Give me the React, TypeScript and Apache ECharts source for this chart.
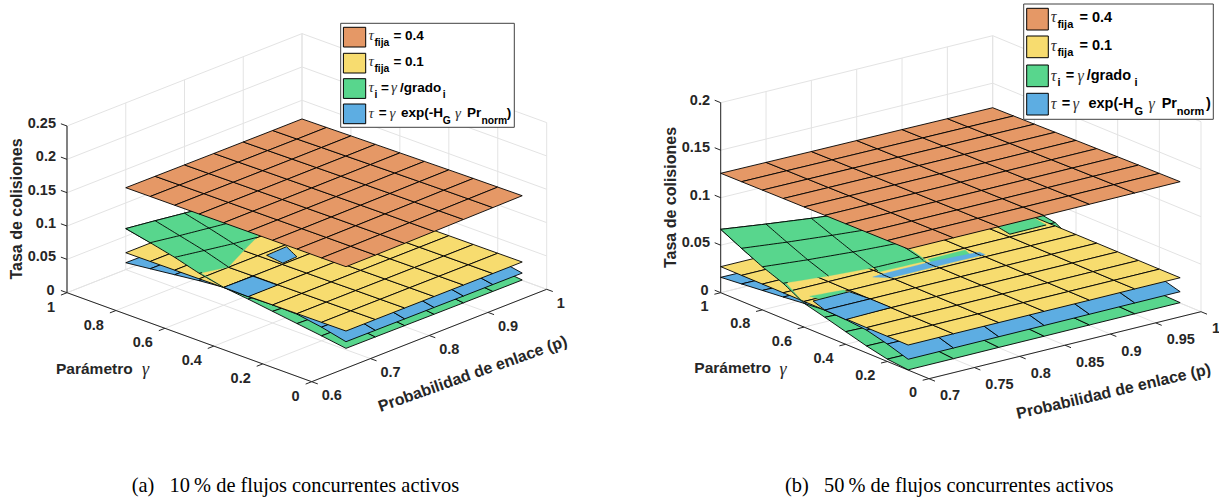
import React, { useEffect, useRef } from "react";
import * as echarts from "echarts";

// ---------- data ----------
const gammaNodes = [1, 0.9, 0.8, 0.7, 0.6, 0.5, 0.4, 0.3, 0.2, 0.1];
const probNodes = [0.7, 0.75, 0.8, 0.85, 0.9, 0.95, 1];

const orangeA = [
  [0.1228, 0.1226, 0.1224, 0.1222, 0.1221, 0.122, 0.122],
  [0.123, 0.1229, 0.1227, 0.1226, 0.1226, 0.1225, 0.1226],
  [0.1232, 0.1232, 0.1231, 0.1231, 0.1231, 0.1232, 0.1233],
  [0.1234, 0.1234, 0.1234, 0.1235, 0.1236, 0.1237, 0.1239],
  [0.1236, 0.1237, 0.1238, 0.1239, 0.1241, 0.1243, 0.1245],
  [0.1238, 0.1239, 0.1241, 0.1243, 0.1246, 0.1249, 0.1251],
  [0.124, 0.1241, 0.1244, 0.1247, 0.125, 0.1254, 0.1257],
  [0.1242, 0.1243, 0.1246, 0.125, 0.1254, 0.1259, 0.1262],
  [0.1243, 0.1244, 0.1248, 0.1252, 0.1257, 0.1262, 0.1266],
  [0.1245, 0.1246, 0.1249, 0.1254, 0.126, 0.1265, 0.127],
];
const yellowA = [
  [0.0253, 0.0253, 0.0254, 0.0254, 0.0255, 0.0255, 0.0255],
  [0.0256, 0.0256, 0.0257, 0.0257, 0.0257, 0.0258, 0.0258],
  [0.0259, 0.0259, 0.026, 0.026, 0.026, 0.026, 0.026],
  [0.0262, 0.0262, 0.0262, 0.0263, 0.0263, 0.0263, 0.0263],
  [0.0265, 0.0265, 0.0265, 0.0265, 0.0265, 0.0265, 0.0265],
  [0.0268, 0.0268, 0.0268, 0.0268, 0.0268, 0.0268, 0.0268],
  [0.0271, 0.0271, 0.027, 0.027, 0.027, 0.027, 0.027],
  [0.0274, 0.0274, 0.0274, 0.0273, 0.0273, 0.0272, 0.0272],
  [0.0277, 0.0277, 0.0276, 0.0276, 0.0275, 0.0274, 0.0274],
  [0.028, 0.028, 0.0279, 0.0278, 0.0277, 0.0276, 0.0276],
];
const greenA = [
  [0.0615, 0.056, 0.05, 0.044, 0.039, 0.035, 0.032],
  [0.0537, 0.047, 0.041, 0.035, 0.03, 0.027, 0.025],
  [0.0451, 0.038, 0.031, 0.0255, 0.023, 0.0215, 0.021],
  [0.0345, 0.0265, 0.022, 0.02, 0.019, 0.0185, 0.018],
  [0.0268, 0.0225, 0.02, 0.0185, 0.0175, 0.0165, 0.016],
  [0.0225, 0.019, 0.017, 0.0155, 0.0145, 0.014, 0.0135],
  [0.0175, 0.015, 0.0135, 0.0125, 0.0115, 0.011, 0.0105],
  [0.0125, 0.011, 0.0095, 0.009, 0.0085, 0.008, 0.0075],
  [0.0075, 0.0065, 0.006, 0.0055, 0.005, 0.0045, 0.0045],
  [0.002, 0.0018, 0.0015, 0.0012, 0.001, 0.0008, 0.0006],
];
const blueA = [
  [0.0103, 0.01, 0.0098, 0.0096, 0.0094, 0.0092, 0.009],
  [0.0146, 0.0142, 0.0138, 0.0135, 0.0132, 0.013, 0.0128],
  [0.019, 0.0185, 0.018, 0.0176, 0.0172, 0.0168, 0.0165],
  [0.0234, 0.0228, 0.0255, 0.026, 0.021, 0.0205, 0.02],
  [0.0268, 0.0262, 0.026, 0.026, 0.025, 0.0245, 0.024],
  [0.0262, 0.0262, 0.0255, 0.025, 0.0245, 0.024, 0.0235],
  [0.0272, 0.0265, 0.0255, 0.025, 0.0245, 0.024, 0.0235],
  [0.0265, 0.0255, 0.0245, 0.024, 0.023, 0.0225, 0.022],
  [0.0205, 0.02, 0.0195, 0.019, 0.0185, 0.018, 0.0178],
  [0.012, 0.0118, 0.0116, 0.0114, 0.0112, 0.0111, 0.011],
];

const orangeB = [
  [0.1257, 0.1254, 0.1251, 0.1249, 0.1247, 0.1244, 0.1242],
  [0.1259, 0.1257, 0.1254, 0.1252, 0.125, 0.1248, 0.1246],
  [0.1261, 0.1259, 0.1257, 0.1255, 0.1253, 0.1252, 0.125],
  [0.1263, 0.1261, 0.126, 0.1258, 0.1257, 0.1256, 0.1255],
  [0.1265, 0.1264, 0.1262, 0.1261, 0.126, 0.126, 0.126],
  [0.1267, 0.1266, 0.1265, 0.1264, 0.1264, 0.1264, 0.1264],
  [0.1269, 0.1268, 0.1267, 0.1267, 0.1267, 0.1268, 0.1268],
  [0.1271, 0.127, 0.127, 0.127, 0.127, 0.1271, 0.1272],
  [0.1273, 0.1273, 0.1272, 0.1272, 0.1273, 0.1274, 0.1275],
  [0.1275, 0.1275, 0.1275, 0.1275, 0.1276, 0.1277, 0.1278],
];
const yellowB = [
  [0.0274, 0.0274, 0.0273, 0.0272, 0.0272, 0.0271, 0.027],
  [0.0273, 0.0273, 0.0272, 0.0272, 0.0271, 0.0271, 0.027],
  [0.0272, 0.0272, 0.0272, 0.0271, 0.0271, 0.027, 0.027],
  [0.0271, 0.0271, 0.0271, 0.0271, 0.027, 0.027, 0.0269],
  [0.027, 0.027, 0.027, 0.027, 0.027, 0.0269, 0.0269],
  [0.0269, 0.0269, 0.0269, 0.0269, 0.0269, 0.0269, 0.0269],
  [0.0268, 0.0268, 0.0268, 0.0268, 0.0268, 0.0268, 0.0268],
  [0.0266, 0.0267, 0.0267, 0.0268, 0.0268, 0.0268, 0.0268],
  [0.0265, 0.0266, 0.0266, 0.0267, 0.0267, 0.0267, 0.0267],
  [0.0264, 0.0265, 0.0265, 0.0266, 0.0266, 0.0267, 0.0267],
];
const greenB = [
  [0.0667, 0.0605, 0.0548, 0.05, 0.0465, 0.044, 0.042],
  [0.0558, 0.0505, 0.046, 0.042, 0.0395, 0.0375, 0.036],
  [0.0454, 0.041, 0.0375, 0.035, 0.034, 0.034, 0.034],
  [0.0371, 0.033, 0.03, 0.0295, 0.03, 0.03, 0.0304],
  [0.0251, 0.0225, 0.021, 0.02, 0.0195, 0.019, 0.0185],
  [0.0194, 0.0175, 0.016, 0.015, 0.0145, 0.014, 0.0135],
  [0.0133, 0.012, 0.0105, 0.01, 0.0095, 0.009, 0.0085],
  [0.0073, 0.0068, 0.006, 0.0055, 0.005, 0.0045, 0.004],
  [0.0025, 0.0022, 0.002, 0.0018, 0.0016, 0.0014, 0.0012],
  [0.0003, 0.0003, 0.0004, 0.0004, 0.0005, 0.0005, 0.0005],
];
const blueB = [
  [0.0162, 0.0158, 0.0152, 0.0148, 0.0144, 0.014, 0.0136],
  [0.0183, 0.0178, 0.0172, 0.0168, 0.0164, 0.016, 0.0156],
  [0.0205, 0.02, 0.0196, 0.0192, 0.0188, 0.0184, 0.018],
  [0.0226, 0.0225, 0.0265, 0.0265, 0.0265, 0.0215, 0.021],
  [0.025, 0.0255, 0.0265, 0.0265, 0.0265, 0.0235, 0.023],
  [0.027, 0.027, 0.0255, 0.025, 0.0245, 0.024, 0.0235],
  [0.026, 0.027, 0.0255, 0.025, 0.0245, 0.024, 0.0235],
  [0.024, 0.0238, 0.0235, 0.0232, 0.023, 0.0228, 0.0225],
  [0.0184, 0.0184, 0.0183, 0.0183, 0.0182, 0.0182, 0.0182],
  [0.0114, 0.0115, 0.0116, 0.0117, 0.0118, 0.0119, 0.012],
];

// parts of a lower surface that the reference paints over the yellow one, as [p, gamma] outlines
const greenOverA = [[[0.7, 1], [0.7, 0.6], [0.703, 0.7], [0.75, 0.7], [0.84, 0.8], [0.92, 0.9], [1, 0.97], [1, 1]]];
const blueOverA = [
  [[0.7, 0.6], [0.75, 0.6], [0.75, 0.5], [0.7, 0.5]],
  [[0.809, 0.686], [0.844, 0.689], [0.83, 0.613], [0.804, 0.608]],
];
const blueSliverA: number[][][] = [];
const greenOverB = [
  [[0.7, 1], [0.7, 0.6], [0.703, 0.7], [0.8, 0.7], [0.8, 0.675], [0.852, 0.675], [0.852, 0.8], [0.852, 1]],
  [[0.95, 0.699], [0.99, 0.699], [0.99, 0.8], [0.95, 0.8]],
  [[0.855, 0.68], [0.896, 0.68], [0.896, 0.645], [0.855, 0.65]],
  [[0.712, 0.625], [0.75, 0.625], [0.75, 0.6], [0.72, 0.6]],
];
const blueOverB = [
  [[0.71, 0.6], [0.75, 0.6], [0.75, 0.5], [0.7, 0.5]],
  [[0.7, 0.5], [0.75, 0.5], [0.75, 0.4], [0.7, 0.4]],
];
const blueSliverB = [[[0.79, 0.662], [0.855, 0.665], [0.905, 0.65], [0.905, 0.622], [0.8, 0.62]]];

const gammaTicks = [1, 0.8, 0.6, 0.4, 0.2, 0];
const gammaLabels = ["1", "0.8", "0.6", "0.4", "0.2", "0"];
const probTicksA = [0.6, 0.7, 0.8, 0.9, 1];
const probLabelsA = ["0.6", "0.7", "0.8", "0.9", "1"];
const probTicksB = [0.7, 0.75, 0.8, 0.85, 0.9, 0.95, 1];
const probLabelsB = ["0.7", "0.75", "0.8", "0.85", "0.9", "0.95", "1"];
const rateTicksA = [0, 0.05, 0.1, 0.15, 0.2, 0.25];
const rateLabelsA = ["0", "0.05", "0.1", "0.15", "0.2", "0.25"];
const rateTicksB = [0, 0.05, 0.1, 0.15, 0.2];
const rateLabelsB = ["0", "0.05", "0.1", "0.15", "0.2"];

const titleRate = "Tasa de colisiones";
const titleProb = "Probabilidad de enlace (p)";
const titleGamma = "Parámetro";
const captionA = "(a)\u2002 10\u2009% de flujos concurrentes activos";
const captionB = "(b)\u2002 50\u2009% de flujos concurrentes activos";

const ORANGE = "#E59866";
const YELLOW = "#F7DC6F";
const GREEN = "#58D68D";
const BLUE = "#5DADE2";
const swatchColors = [ORANGE, YELLOW, GREEN, BLUE];

// legend pieces: text, x inside the box, row, kind (m main, s subscript, g greek)
const legendPartsA: any[] = [
  ["τ", 27.7, 0, "g"], ["fija", 33.7, 0, "s"], ["= 0.4", 52.7, 0, "m"],
  ["τ", 27.7, 1, "g"], ["fija", 33.7, 1, "s"], ["= 0.1", 52.7, 1, "m"],
  ["τ", 27.7, 2, "g"], ["i", 33.7, 2, "s"], ["=", 40.3, 2, "m"], ["γ", 50.3, 2, "g"], ["/grado", 59.3, 2, "m"], ["i", 102, 2, "s"],
  ["τ", 27.7, 3, "g"], ["=", 38, 3, "m"], ["γ", 48.7, 3, "g"], ["exp(-H", 60.3, 3, "m"], ["G", 102, 3, "s"],
  ["γ", 114.3, 3, "g"], ["Pr", 126.3, 3, "m"], ["norm", 140.7, 3, "s"], [")", 166, 3, "m"],
];
const legendPartsB: any[] = [
  ["τ", 27, 0, "g"], ["fija", 33.7, 0, "s"], ["= 0.4", 55.7, 0, "m"],
  ["τ", 27, 1, "g"], ["fija", 33.7, 1, "s"], ["= 0.1", 55.7, 1, "m"],
  ["τ", 27, 2, "g"], ["i", 33.7, 2, "s"], ["=", 42, 2, "m"], ["γ", 53.7, 2, "g"], ["/grado", 63, 2, "m"], ["i", 110.7, 2, "s"],
  ["τ", 27, 3, "g"], ["=", 38, 3, "m"], ["γ", 49, 3, "g"], ["exp(-H", 64.7, 3, "m"], ["G", 110.7, 3, "s"],
  ["γ", 124.7, 3, "g"], ["Pr", 138, 3, "m"], ["norm", 153, 3, "s"], [")", 182.3, 3, "m"],
];

// ---------- view of each panel ----------
const panelA = {
  origin: [311.7, 381.7], pVec: [235, -92.4], gVec: [-244.7, -89], zScale: 666.8,
  pMin: 0.6, pMax: 1, zMax: 0.25,
  pTicks: probTicksA, pLabels: probLabelsA, zTicks: rateTicksA, zLabels: rateLabelsA,
  orange: orangeA, yellow: yellowA, green: greenA, blue: blueA,
  greenOver: greenOverA, blueOver: blueOverA, blueSliver: blueSliverA,
  zAxisColor: "#666666", zAxisWidth: 1.6,
  pLabelOffset: [10, 13.5], gLabelOffset: [-12, 14], zLabelRight: 56, zLabelDy: -3,
  rateTitle: [16.7, 209], probTitle: [472.5, 373.5], probAngle: 19.5,
  gammaTitleX: 56, gammaGreekX: 145.5, gammaY: 368,
  caption: captionA, captionX: 131.7,
  legend: { box: [340.7, 23.3, 173.6, 104], parts: legendPartsA, rows: [11.7, 37.7, 64, 89.4], subDy: 7.4,
    swY: [4, 30, 55.4, 80.7], swX: 2.7, swW: 22.3, swH: 19.7, main: 13.5, sub: 10.3 },
};
const panelB = {
  origin: [929, 378.7], pVec: [272, -67], gVec: [-208.3, -86], zScale: 950,
  pMin: 0.7, pMax: 1, zMax: 0.2,
  pTicks: probTicksB, pLabels: probLabelsB, zTicks: rateTicksB, zLabels: rateLabelsB,
  orange: orangeB, yellow: yellowB, green: greenB, blue: blueB,
  greenOver: greenOverB, blueOver: blueOverB, blueSliver: blueSliverB,
  zAxisColor: "#262626", zAxisWidth: 1,
  pLabelOffset: [11, 16.5], gLabelOffset: [-12, 13.5], zLabelRight: 710, zLabelDy: -3.2,
  rateTitle: [670, 197.5], probTitle: [1113.5, 391], probAngle: 13.1,
  gammaTitleX: 694.3, gammaGreekX: 783, gammaY: 367.7,
  caption: captionB, captionX: 785,
  legend: { box: [1023.7, 4, 189.6, 115.3], parts: legendPartsB, rows: [12.7, 41, 71, 99.3], subDy: 7.4,
    swY: [4.3, 32, 61, 89.3], swX: 3, swW: 21.6, swH: 21.7, main: 14.5, sub: 11 },
};

const TEXT = "#262626";
const GRID = "#E3E3E3";
const SANS = "'Liberation Sans', Arial, sans-serif";
const SERIF = "'Liberation Serif', 'Times New Roman', serif";

function project(pn: any, p: number, g: number, z: number) {
  const a = (p - pn.pMin) / (pn.pMax - pn.pMin);
  return [
    pn.origin[0] + a * pn.pVec[0] + g * pn.gVec[0],
    pn.origin[1] + a * pn.pVec[1] + g * pn.gVec[1] - z * pn.zScale,
  ];
}
function unit(v: number[], len: number) {
  const n = Math.hypot(v[0], v[1]);
  return [(v[0] / n) * len, (v[1] / n) * len];
}
function zAt(t: number[][], p: number, g: number) {
  const fc = Math.min(5.9999, Math.max(0, (p - 0.7) / 0.05));
  const fr = Math.min(8.9999, Math.max(0, (1 - g) / 0.1));
  const c = Math.floor(fc), r = Math.floor(fr);
  const u = fc - c, v = fr - r;
  return (t[r][c] * (1 - u) + t[r][c + 1] * u) * (1 - v) + (t[r + 1][c] * (1 - u) + t[r + 1][c + 1] * u) * v;
}
function inside(poly: number[][], p: number, g: number) {
  let hit = false;
  for (let i = 0, j = poly.length - 1; i < poly.length; j = i++) {
    const [xi, yi] = poly[i], [xj, yj] = poly[j];
    if (yi > g !== yj > g && p < ((xj - xi) * (g - yi)) / (yj - yi) + xi) hit = !hit;
  }
  return hit;
}

const line = (pts: number[][], stroke: string, w = 1) => ({ k: "line", pts, stroke, w });
const fillPoly = (pts: number[][], fill: string, stroke: string, w = 1) => ({ k: "poly", pts, fill, stroke, w });
const txt = (x: number, y: number, text: string, size: number, o: any = {}) => ({ k: "text", x, y, text, size, ...o });

function baseSurface(pn: any, t: number[][], color: string) {
  const items: any[] = [];
  for (let r = 0; r < gammaNodes.length - 1; r++)
    for (let c = 0; c < probNodes.length - 1; c++) {
      items.push(fillPoly([
        project(pn, probNodes[c], gammaNodes[r], t[r][c]),
        project(pn, probNodes[c + 1], gammaNodes[r], t[r][c + 1]),
        project(pn, probNodes[c + 1], gammaNodes[r + 1], t[r + 1][c + 1]),
        project(pn, probNodes[c], gammaNodes[r + 1], t[r + 1][c]),
      ], color, "#000000", 0.9));
    }
  return items;
}

function overlay(pn: any, t: number[][], polys: number[][][], color: string, outline: boolean) {
  const items: any[] = [];
  polys.forEach((poly) => {
    const pts: number[][] = [];
    poly.forEach((v, i) => {
      const n = poly[(i + 1) % poly.length];
      for (let s = 0; s < 6; s++) {
        const p = v[0] + ((n[0] - v[0]) * s) / 6;
        const g = v[1] + ((n[1] - v[1]) * s) / 6;
        pts.push(project(pn, p, g, zAt(t, p, g)));
      }
    });
    items.push(fillPoly(pts, color, outline ? "#000000" : color, outline ? 0.9 : 0.3));
    if (outline) return;
    const STEPS = 10;
    const walk = (a: number[], b: number[], nudge: number[]) => {
      let run: number[][] = [];
      for (let s = 0; s < STEPS; s++) {
        const p0 = a[0] + ((b[0] - a[0]) * s) / STEPS, g0 = a[1] + ((b[1] - a[1]) * s) / STEPS;
        const p1 = a[0] + ((b[0] - a[0]) * (s + 1)) / STEPS, g1 = a[1] + ((b[1] - a[1]) * (s + 1)) / STEPS;
        if (inside(poly, (p0 + p1) / 2 + nudge[0], (g0 + g1) / 2 + nudge[1])) {
          if (!run.length) run.push(project(pn, p0, g0, zAt(t, p0, g0)));
          run.push(project(pn, p1, g1, zAt(t, p1, g1)));
        } else if (run.length) {
          items.push(line(run, "#000000", 0.9));
          run = [];
        }
      }
      if (run.length) items.push(line(run, "#000000", 0.9));
    };
    gammaNodes.forEach((g) => probNodes.slice(0, -1).forEach((p, c) => walk([p, g], [probNodes[c + 1], g], [0, -1e-4])));
    probNodes.forEach((p) => gammaNodes.slice(0, -1).forEach((g, r) => walk([p, g], [p, gammaNodes[r + 1]], [1e-4, 0])));
  });
  return items;
}

function buildPanel(pn: any) {
  // walls and floor
  const grid: any[] = [];
  pn.zTicks.forEach((z: number) => {
    grid.push(line([project(pn, pn.pMin, 1, z), project(pn, pn.pMax, 1, z), project(pn, pn.pMax, 0, z)], GRID));
  });
  pn.pTicks.forEach((p: number) => {
    grid.push(line([project(pn, p, 0, 0), project(pn, p, 1, 0), project(pn, p, 1, pn.zMax)], GRID));
  });
  gammaTicks.forEach((g) => {
    grid.push(line([project(pn, pn.pMin, g, 0), project(pn, pn.pMax, g, 0), project(pn, pn.pMax, g, pn.zMax)], GRID));
  });

  // axes, ticks and their labels
  const axes: any[] = [];
  axes.push(line([project(pn, pn.pMin, 1, 0), project(pn, pn.pMin, 1, pn.zMax)], pn.zAxisColor, pn.zAxisWidth));
  axes.push(line([project(pn, pn.pMin, 1, 0), project(pn, pn.pMin, 0, 0)], TEXT));
  axes.push(line([project(pn, pn.pMin, 0, 0), project(pn, pn.pMax, 0, 0)], TEXT));
  const dz = unit(pn.gVec, 6.5);
  pn.zTicks.forEach((z: number, i: number) => {
    const a = project(pn, pn.pMin, 1, z);
    axes.push(line([a, [a[0] + dz[0], a[1] + dz[1]]], TEXT));
    axes.push(txt(pn.zLabelRight - (z === 0 ? 1.5 : 0), a[1] + pn.zLabelDy, pn.zLabels[i], 14.5, { align: "right", weight: "bold" }));
  });
  const dg = unit(pn.pVec, -6.5);
  gammaTicks.forEach((g, i) => {
    const a = project(pn, pn.pMin, g, 0);
    axes.push(line([a, [a[0] + dg[0], a[1] + dg[1]]], TEXT));
    axes.push(txt(a[0] + pn.gLabelOffset[0], a[1] + pn.gLabelOffset[1], gammaLabels[i], 14.5, { align: "right", weight: "bold" }));
  });
  const dp = unit(pn.gVec, -6.5);
  pn.pTicks.forEach((p: number, i: number) => {
    const a = project(pn, p, 0, 0);
    axes.push(line([a, [a[0] + dp[0], a[1] + dp[1]]], TEXT));
    axes.push(txt(a[0] + pn.pLabelOffset[0], a[1] + pn.pLabelOffset[1], pn.pLabels[i], 14.5, { align: "left", weight: "bold" }));
  });
  axes.push(txt(pn.rateTitle[0], pn.rateTitle[1], titleRate, 16, { align: "center", weight: "bold", rot: 90 }));
  axes.push(txt(pn.probTitle[0], pn.probTitle[1], titleProb, 16, { align: "center", weight: "bold", rot: pn.probAngle }));
  axes.push(txt(pn.gammaTitleX, pn.gammaY, titleGamma, 15.5, { align: "left", weight: "bold" }));
  axes.push(txt(pn.gammaGreekX, pn.gammaY + 1, "γ", 18, { align: "center", family: SERIF, style: "italic" }));
  axes.push(txt(pn.captionX, 485, pn.caption, 20.4, { align: "left", family: SERIF, fill: "#000000" }));

  // legend
  const lg = pn.legend;
  const [bx, by, bw, bh] = lg.box;
  const legend: any[] = [fillPoly([[bx, by], [bx + bw, by], [bx + bw, by + bh], [bx, by + bh]], "#FFFFFF", "#404040", 1)];
  swatchColors.forEach((c, i) => {
    const x = bx + lg.swX, y = by + lg.swY[i];
    legend.push(fillPoly([[x, y], [x + lg.swW, y], [x + lg.swW, y + lg.swH], [x, y + lg.swH]], c, "#000000", 1));
  });
  lg.parts.forEach(([t, xr, row, kind]: any[]) => {
    const y = by + lg.rows[row];
    if (kind === "m") legend.push(txt(bx + xr, y, t, lg.main, { align: "left", weight: "bold", fill: "#000000" }));
    else if (kind === "s") legend.push(txt(bx + xr, y + lg.subDy, t, lg.sub, { align: "left", weight: "bold", fill: "#000000" }));
    else legend.push(txt(bx + xr, y, t, lg.main + 1.5, { align: "left", family: SERIF, style: "italic", fill: "#333333" }));
  });

  return [
    grid,
    axes,
    baseSurface(pn, pn.green, GREEN),
    baseSurface(pn, pn.blue, BLUE),
    baseSurface(pn, pn.yellow, YELLOW),
    overlay(pn, pn.green, pn.greenOver, GREEN, false),
    overlay(pn, pn.blue, pn.blueSliver, BLUE, false),
    overlay(pn, pn.blue, pn.blueOver, BLUE, true),
    baseSurface(pn, pn.orange, ORANGE),
    legend,
  ];
}

function layerSeries(items: any[]) {
  return {
    type: "custom",
    coordinateSystem: "cartesian2d",
    silent: true,
    clip: false,
    progressive: 0,
    data: items.map((_, i) => [i, 0]),
    renderItem: (params: any, api: any) => {
      const it = items[params.dataIndex];
      if (it.k === "poly") {
        return {
          type: "polygon",
          shape: { points: it.pts.map((q: number[]) => api.coord(q)) },
          style: { fill: it.fill, stroke: it.stroke, lineWidth: it.w, lineJoin: "round" },
        };
      }
      if (it.k === "line") {
        return {
          type: "polyline",
          shape: { points: it.pts.map((q: number[]) => api.coord(q)) },
          style: { fill: "none", stroke: it.stroke, lineWidth: it.w },
        };
      }
      const c = api.coord([it.x, it.y]);
      return {
        type: "text",
        x: c[0],
        y: c[1],
        rotation: ((it.rot || 0) * Math.PI) / 180,
        style: {
          text: it.text,
          x: 0,
          y: 0,
          fill: it.fill || TEXT,
          align: it.align,
          verticalAlign: "middle",
          fontSize: it.size,
          fontWeight: it.weight || "normal",
          fontStyle: it.style || "normal",
          fontFamily: it.family || SANS,
        },
      };
    },
  };
}

export default function App() {
  const ref = useRef<HTMLDivElement>(null);
  useEffect(() => {
    document.body.style.margin = "0";
    const chart = echarts.init(ref.current!, undefined, { renderer: "svg" });
    const layers = [...buildPanel(panelA), ...buildPanel(panelB)];
    chart.setOption({
      animation: false,
      backgroundColor: "#FFFFFF",
      grid: { left: 0, right: 0, top: 0, bottom: 0 },
      xAxis: { type: "value", min: 0, max: 1219, show: false },
      yAxis: { type: "value", min: 0, max: 501, inverse: true, show: false },
      series: layers.map(layerSeries),
    });
    return () => chart.dispose();
  }, []);
  return <div ref={ref} style={{ width: 1219, height: 501, overflow: "hidden" }} />;
}
